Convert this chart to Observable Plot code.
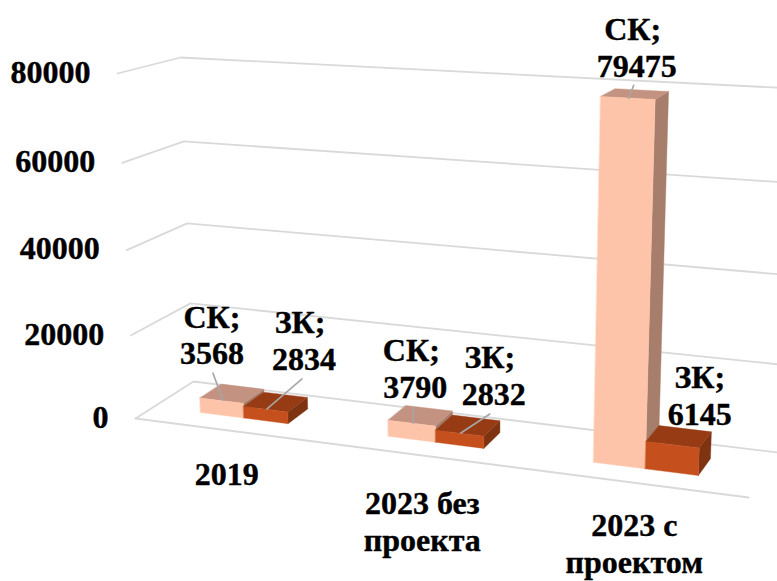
<!DOCTYPE html>
<html>
<head>
<meta charset="utf-8">
<style>
  html, body { margin: 0; padding: 0; background: #fff; overflow: hidden; }
  svg { display: block; overflow: hidden; }
</style>
<script src="https://cdn.jsdelivr.net/npm/d3@7"></script>
<script src="https://cdn.jsdelivr.net/npm/@observablehq/plot@0.6"></script>
</head>
<body>
<div id="chart"></div>
<script>
// Chart values
const categories = ["2019", "2023 без\nпроекта", "2023 с\nпроектом"];
const seriesNames = ["СК", "ЗК"];
const skValues = [3568, 3790, 79475];
const zkValues = [2834, 2832, 6145];
const axisTicks = [0, 20000, 40000, 60000, 80000];
const axisMax = 80000;

// Colours per series: front, top, side
const faceColors = {
  "СК": {front: "#fec4a9", top: "#c39280", side: "#a67e6b"},
  "ЗК": {front: "#c5501e", top: "#963b14", side: "#7e3311"}
};
const gridColor = "#d9d9d9";
const leaderColor = "#a6a6a6";

// Perspective box of the chart: eight screen corners, named front/back, left/right, floor/top
const box = {
  fl: [135, 418], bl: [193, 381], fr: [748, 497], br: [777, 452],
  flt: [117, 73], blt: [180, 57], frt: [764, 110], brt: [793, 88]
};
const barFront = 0.32, barBack = 0.70, barHalfWidth = 0.0796;

// Foreshortening along the category and value directions
const warp = (t, k) => t / (1 + k * (1 - t));

function project(u, depth, value) {
  const su = warp(u, 0.145);
  const sv = warp(value / axisMax, 0.049);
  const mix = (a, b, t) => [a[0] + (b[0] - a[0]) * t, a[1] + (b[1] - a[1]) * t];
  const floor = mix(mix(box.fl, box.fr, su), mix(box.bl, box.br, su), depth);
  const top = mix(mix(box.flt, box.frt, su), mix(box.blt, box.brt, su), depth);
  const p = mix(floor, top, sv);
  return {x: p[0], y: p[1]};
}

const slotCentre = i => (i + 0.5) / categories.length;

// Faces of one bar, back to front
function barFaces(i, seriesIndex, value) {
  const c = slotCentre(i);
  const u0 = seriesIndex === 0 ? c - barHalfWidth : c;
  const u1 = seriesIndex === 0 ? c : c + barHalfWidth;
  const colors = faceColors[seriesNames[seriesIndex]];
  return [
    {color: colors.side, points: [project(u1, barFront, 0), project(u1, barBack, 0), project(u1, barBack, value), project(u1, barFront, value)]},
    {color: colors.top, points: [project(u0, barFront, value), project(u1, barFront, value), project(u1, barBack, value), project(u0, barBack, value)]},
    {color: colors.front, points: [project(u0, barFront, 0), project(u1, barFront, 0), project(u1, barFront, value), project(u0, barFront, value)]}
  ];
}

const seriesValues = [skValues, zkValues];
const faces = [];
categories.forEach((_, i) => {
  seriesValues.forEach((vals, s) => faces.push(...barFaces(i, s, vals[i])));
});

// Label and leader placement, as screen offsets from the centre of each bar's top
const labelOffset = [
  [[-20, -59.5], [28.5, -62]],
  [[-5, -47.6], [26, -50.5]],
  [[2, -47], [21, -42]]
];
const labelTrailingSpace = [[false, true], [true, true], [true, false]];
const leaderOffset = [
  [[[-19, -20.5], [-9, 6.5]], [[26.5, -23], [-8.5, 7]]],
  [[[-7, -8.5], [-7, 7.5]], [[22, -11.5], [-7, 7.5]]],
  [[[-1, -8.7], [-6, 4.3]], null]
];
const categoryOffset = [[0, 43], [1, 65], [0, 60]];

const barTop = (i, s, value) => {
  const c = slotCentre(i);
  return project(s === 0 ? c - barHalfWidth / 2 : c + barHalfWidth / 2, (barFront + barBack) / 2, value);
};

const valueLabels = [];
const leaders = [];
categories.forEach((_, i) => {
  seriesValues.forEach((vals, s) => {
    const p = barTop(i, s, vals[i]);
    const off = labelOffset[i][s];
    const gap = labelTrailingSpace[i][s] ? "\u00a0" : "";
    valueLabels.push({x: p.x + off[0], y: p.y + off[1], text: `${seriesNames[s]};${gap}\n${vals[i]}`});
    const lead = leaderOffset[i][s];
    if (lead) {
      leaders.push(
        {id: `${i}-${s}`, x: p.x + lead[0][0], y: p.y + lead[0][1]},
        {id: `${i}-${s}`, x: p.x + lead[1][0], y: p.y + lead[1][1]}
      );
    }
  });
});

// Gridlines run along the side wall and the back wall; the floor also has a front edge
const gridLines = axisTicks.flatMap(v => [
  {id: v, ...project(0, 0, v)},
  {id: v, ...project(0, 1, v)},
  {id: v, ...project(1, 1, v)}
]);
const floorFront = [project(0, 0, 0), project(1, 0, 0)];

const tickLabels = axisTicks.map(v => ({...project(0, 0, v), text: String(v)}));
const categoryLabels = categories.map((text, i) => {
  const p = project(slotCentre(i), 0, 0);
  return {x: p.x + categoryOffset[i][0], y: p.y + categoryOffset[i][1], text};
});

const textStyle = {
  text: "text", fontFamily: "Liberation Serif", fontWeight: 700, fontSize: 32,
  fill: "#000", stroke: "#000", strokeWidth: 0.4
};

const plot = Plot.plot({
  width: 777,
  height: 581,
  margin: 0,
  x: {domain: [0, 777], range: [0, 777], axis: null},
  y: {domain: [0, 581], range: [0, 581], axis: null},
  marks: [
    Plot.line(gridLines, {x: "x", y: "y", z: "id", stroke: gridColor, strokeWidth: 1.8, curve: "linear"}),
    Plot.line(floorFront, {x: "x", y: "y", stroke: gridColor, strokeWidth: 1.8}),
    ...faces.map(f => Plot.line(f.points, {
      x: "x", y: "y", fill: f.color, stroke: f.color, strokeWidth: 0.4, curve: "linear-closed"
    })),
    Plot.line(leaders, {x: "x", y: "y", z: "id", stroke: leaderColor, strokeWidth: 1.6}),
    Plot.text(tickLabels, {x: "x", y: "y", dx: -27, dy: -1, textAnchor: "end", ...textStyle}),
    Plot.text(categoryLabels, {x: "x", y: "y", lineHeight: 1.15, ...textStyle}),
    Plot.text(valueLabels, {x: "x", y: "y", lineHeight: 1.15, ...textStyle})
  ]
});
document.getElementById("chart").append(plot);
</script>
</body>
</html>
